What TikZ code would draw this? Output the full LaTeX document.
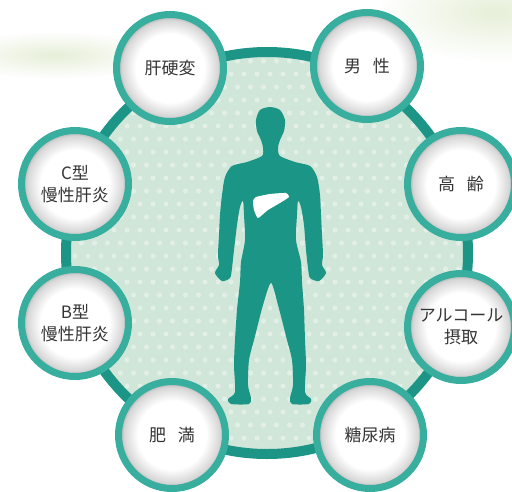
\documentclass[tikz,border=0pt]{standalone}
\usepackage{fontspec}
\newfontfamily\jpfont{Noto Sans CJK JP}
\usepackage{tikz}
\definecolor{ringdark}{HTML}{1C9486}
\definecolor{ringlight}{HTML}{38AE9F}
\definecolor{bodyteal}{HTML}{1B9585}
\definecolor{mint}{HTML}{D0E6D8}
\definecolor{mintdot}{HTML}{E2EFE7}
\definecolor{haze}{HTML}{E6EFD8}
\definecolor{labelgray}{HTML}{353535}
% 圆圈内部: 中间白色, 边缘略带灰色
\pgfdeclareradialshading{bubble}{\pgfpoint{0bp}{0bp}}{color(0bp)=(white); color(16bp)=(white); color(22.5bp)=(black!16); color(25bp)=(black!38); color(50bp)=(black!38)}
\newcommand\drawfactor[3]{ % 画因素圆圈,3个参数分别表示:节点名,位置,文字
    \node[factor] (#1) at (#2) {#3};
}

\begin{document}
\begin{tikzpicture}[x=1pt, y=-1pt,
    factor/.style={circle, minimum size=107pt, inner sep=0pt, draw=ringlight, line width=7pt,
        shade, shading=bubble, align=center, text=labelgray, font=\jpfont\fontsize{17}{22}\selectfont}]
        \useasboundingbox (0,0) rectangle (512,491);
        \clip (0,0) rectangle (512,491);
        % 背景的淡绿色笔触
        \shade[inner color=haze, outer color=white] (55,55) ellipse[x radius=110pt, y radius=24pt];
        \shade[inner color=haze, outer color=white] (495,12) ellipse[x radius=120pt, y radius=50pt];
        % 大圆及圆点底纹
        \fill[mint] (267,253) circle[radius=201pt];
        \begin{scope}
            \clip (267,253) circle[radius=201pt];
            \foreach \j in {0,...,31} {
                \foreach \i in {0,...,31} {
                    \fill[mintdot] ({62+13*\i+6.5*mod(\j,2)}, {48+13*\j}) circle[radius=2.6pt];
                }
            }
        \end{scope}
        \draw[ringdark, line width=10pt] (267,253) circle[radius=201pt];
        % 人体剪影
        \fill[bodyteal] plot[smooth cycle, tension=0.45] coordinates {
            (270,107) (280,110) (285,120) (284,131) (280,140) (278,148) (280,156) (295,162) (310,166)
            (317,177) (320,195) (321,215) (322,235) (323,255) (322,265) (326,273) (319,281)
            (310,278) (308,268) (306,250) (304,225) (301,207) (298,201) (297,215) (296,240)
            (301,262) (302,282) (304,310) (305,340) (306,365) (305,392) (311,399) (309,404)
            (292,404) (290,398) (293,385) (292,360) (287,340) (278,305) (271,283) (263,305)
            (254,340) (249,360) (248,385) (251,398) (249,404) (231,404) (228,399) (235,392)
            (234,365) (235,340) (237,310) (240,282) (241,262) (245,240) (244,215) (243,201)
            (240,207) (237,225) (234,250) (232,268) (230,278) (222,281) (215,273) (219,265)
            (218,255) (219,235) (220,215) (222,195) (225,177) (232,166) (247,162) (262,156)
            (263,148) (261,140) (257,131) (256,120) (260,110)
        };
        % 肝脏
        \fill[white] plot[smooth cycle, tension=0.3] coordinates {
            (256,197) (270,194) (286,193) (289,197) (280,203) (268,210) (258,218) (254,210) (253,201)
        };
        % 八个因素
        \drawfactor{cirrhosis}{170,68}{肝硬変}
        \drawfactor{male}{367,66}{男\hspace{0.7em}性}
        \drawfactor{aging}{461,184}{高\hspace{0.7em}齢}
        \drawfactor{alcohol}{461,327}{アルコール\\摂取}
        \drawfactor{diabetes}{370,435}{糖尿病}
        \drawfactor{obesity}{172,435}{肥\hspace{0.7em}満}
        \drawfactor{hepB}{75,323}{B型\\慢性肝炎}
        \drawfactor{hepC}{75,184}{C型\\慢性肝炎}
    \end{tikzpicture}
\end{document}
